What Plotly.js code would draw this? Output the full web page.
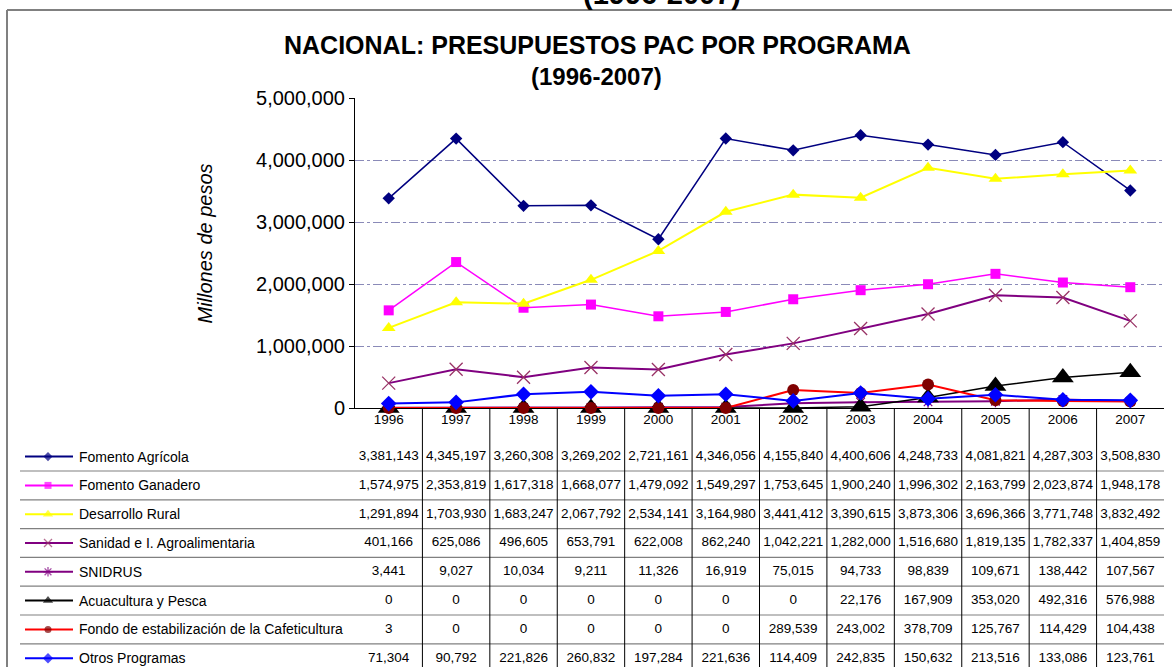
<!DOCTYPE html>
<html>
<head>
<meta charset="utf-8">
<script src="https://cdn.plot.ly/plotly-3.0.1.min.js"></script>
<style>
  html, body { margin: 0; padding: 0; background: #ffffff; }
  #chart { width: 1172px; height: 667px; }
</style>
</head>
<body>
<div id="chart"></div>
<script>
// ---------------- DATA ----------------
const years = [1996, 1997, 1998, 1999, 2000, 2001, 2002, 2003, 2004, 2005, 2006, 2007];

const seriesNames = [
  "Fomento Agrícola",
  "Fomento Ganadero",
  "Desarrollo Rural",
  "Sanidad e I. Agroalimentaria",
  "SNIDRUS",
  "Acuacultura y Pesca",
  "Fondo de estabilización de la Cafeticultura",
  "Otros Programas"
];

const fomentoAgricola = [3381143, 4345197, 3260308, 3269202, 2721161, 4346056, 4155840, 4400606, 4248733, 4081821, 4287303, 3508830];
const fomentoGanadero = [1574975, 2353819, 1617318, 1668077, 1479092, 1549297, 1753645, 1900240, 1996302, 2163799, 2023874, 1948178];
const desarrolloRural = [1291894, 1703930, 1683247, 2067792, 2534141, 3164980, 3441412, 3390615, 3873306, 3696366, 3771748, 3832492];
const sanidadAgro     = [401166, 625086, 496605, 653791, 622008, 862240, 1042221, 1282000, 1516680, 1819135, 1782337, 1404859];
const snidrus         = [3441, 9027, 10034, 9211, 11326, 16919, 75015, 94733, 98839, 109671, 138442, 107567];
const acuacultura     = [0, 0, 0, 0, 0, 0, 0, 22176, 167909, 353020, 492316, 576988];
const fondoCafe       = [3, 0, 0, 0, 0, 0, 289539, 243002, 378709, 125767, 114429, 104438];
const otrosProgramas  = [71304, 90792, 221826, 260832, 197284, 221636, 114409, 242835, 150632, 213516, 133086, 123761];

const yTicks = [0, 1000000, 2000000, 3000000, 4000000, 5000000];

const seriesValues = [fomentoAgricola, fomentoGanadero, desarrolloRural, sanidadAgro, snidrus, acuacultura, fondoCafe, otrosProgramas];

// ---------------- STYLES ----------------
const styles = [
  {line: "#000080", lw: 1.5, mc: "#000080", sym: "diamond",        size: 9.5,  lsize: 7,  mlw: 0},
  {line: "#FF00FF", lw: 1.5, mc: "#FF00FF", sym: "square",         size: 10,   lsize: 7,  mlw: 0},
  {line: "#FFFF00", lw: 2,   mc: "#FFFF00", sym: "triangle-up",    size: 12,   lsize: 9,  mlw: 0},
  {line: "#800080", lw: 2,   mc: "#993366", sym: "x-thin-open",    size: 13,   lsize: 8,  mlw: 1.3},
  {line: "#800080", lw: 2,   mc: "#800080", sym: "asterisk-open",  size: 10,   lsize: 8,  mlw: 1.3},
  {line: "#000000", lw: 1.5, mc: "#000000", sym: "triangle-up",    size: 19,   lsize: 9,  mlw: 0},
  {line: "#FF0000", lw: 2,   mc: "#800000", sym: "circle",         size: 12,   lsize: 7,  mlw: 0},
  {line: "#0000FF", lw: 2,   mc: "#0000FF", sym: "diamond",        size: 12,   lsize: 8,  mlw: 0}
];

// ---------------- GEOMETRY (pixels) ----------------
const W = 1172, H = 667;
const plotLeft = 355, plotRight = 1164, plotTop = 98, axisY = 408;
const tableLeft = 20;
const pxPerYear = (plotRight - plotLeft) / 12;
const x2Start = 2007.5 - (plotRight - tableLeft) / pxPerYear;
const px2x = p => x2Start + (p - tableLeft) / pxPerYear;
const row0 = 456.6, rowPitch = 28.8;
const py2r = p => (p - row0) / rowPitch;

const FONT = "Liberation Sans, Arial, sans-serif";
const fmt = v => v.toLocaleString("en-US");

const traces = [];

// chart lines
seriesValues.forEach((vals, i) => {
  const s = styles[i];
  traces.push({
    type: "scatter", mode: "lines+markers",
    x: years, y: vals, xaxis: "x", yaxis: "y",
    name: seriesNames[i], showlegend: false, cliponaxis: false,
    line: {color: s.line, width: s.lw},
    marker: {color: s.mc, symbol: s.sym, size: s.size, line: {color: s.mc, width: s.mlw}},
    hoverinfo: "skip"
  });
});

// table: year header
traces.push({
  type: "scatter", mode: "text",
  x: years, y: years.map(() => py2r(421)),
  text: years.map(String), xaxis: "x2", yaxis: "y2",
  textposition: "middle center",
  textfont: {family: FONT, size: 13.5, color: "#000000"},
  showlegend: false, hoverinfo: "skip", cliponaxis: false
});

// table: value rows and legend samples
seriesValues.forEach((vals, i) => {
  const s = styles[i];
  traces.push({
    type: "scatter", mode: "text",
    x: years, y: years.map(() => i),
    text: vals.map(fmt), xaxis: "x2", yaxis: "y2",
    textposition: "middle center",
    textfont: {family: FONT, size: 13.5, color: "#000000"},
    showlegend: false, hoverinfo: "skip", cliponaxis: false
  });
  traces.push({
    type: "scatter", mode: "lines+markers",
    x: [px2x(25), px2x(48), px2x(73)], y: [i, i, i],
    xaxis: "x2", yaxis: "y2",
    line: {color: s.line, width: 2},
    marker: {color: s.mc, symbol: s.sym, size: [0, s.lsize, 0], line: {color: s.mc, width: s.mlw}},
    showlegend: false, hoverinfo: "skip", cliponaxis: false
  });
});

// shapes
const shapes = [];
// frame
shapes.push({type: "line", xref: "paper", yref: "paper", x0: 7 / W, x1: 1, y0: 1 - 10 / H, y1: 1 - 10 / H, line: {color: "#808080", width: 2}});
shapes.push({type: "line", xref: "paper", yref: "paper", x0: 7 / W, x1: 7 / W, y0: 0, y1: 1 - 10 / H, line: {color: "#808080", width: 2}});
// table horizontal lines
for (let k = 0; k < seriesNames.length - 1; k++) {
  shapes.push({type: "line", xref: "x2 domain", yref: "y2", x0: 0, x1: 1, y0: k + 0.5, y1: k + 0.5, line: {color: "#808080", width: 1.2}});
}
// table vertical lines
for (let k = 0; k < years.length - 1; k++) {
  shapes.push({type: "line", xref: "x2", yref: "y2 domain", x0: years[k] + 0.5, x1: years[k] + 0.5, y0: 0, y1: 1, line: {color: "#000000", width: 1}});
}

// annotations
const annotations = [];
annotations.push({text: "<b>(1996-2007)</b>", xref: "paper", yref: "paper", x: 661.5 / W, y: 1 + 6 / H, xanchor: "center", yanchor: "middle", showarrow: false, font: {family: FONT, size: 29, color: "#000000"}});
annotations.push({text: "<b>NACIONAL: PRESUPUESTOS PAC POR PROGRAMA</b>", xref: "paper", yref: "paper", x: 597 / W, y: 1 - 45 / H, xanchor: "center", yanchor: "middle", showarrow: false, font: {family: FONT, size: 25, color: "#000000"}});
annotations.push({text: "<b>(1996-2007)</b>", xref: "paper", yref: "paper", x: 596 / W, y: 1 - 77 / H, xanchor: "center", yanchor: "middle", showarrow: false, font: {family: FONT, size: 24, color: "#000000"}});
annotations.push({text: "<i>Millones de pesos</i>", xref: "paper", yref: "paper", x: 204 / W, y: 1 - 243.5 / H, xanchor: "center", yanchor: "middle", textangle: -90, showarrow: false, font: {family: FONT, size: 20, color: "#000000"}});
seriesNames.forEach((nm, i) => {
  annotations.push({text: nm, xref: "x2", yref: "y2", x: px2x(77), y: i, xanchor: "left", yanchor: "middle", showarrow: false, font: {family: FONT, size: 14, color: "#000000"}});
});

const layout = {
  width: W, height: H,
  margin: {l: 0, r: 0, t: 0, b: 0, pad: 0},
  paper_bgcolor: "#ffffff", plot_bgcolor: "rgba(0,0,0,0)",
  showlegend: false,
  xaxis: {
    domain: [plotLeft / W, plotRight / W], range: [1995.5, 2007.5],
    showgrid: false, zeroline: false, showticklabels: false, ticks: "",
    showline: true, linecolor: "#000000", linewidth: 1, layer: "below traces",
    anchor: "y", fixedrange: true
  },
  yaxis: {
    domain: [1 - axisY / H, 1 - plotTop / H], range: [0, 5000000],
    tickvals: yTicks, tickformat: ",d",
    ticks: "outside", ticklen: 5, tickcolor: "#000000", tickwidth: 1,
    tickfont: {family: FONT, size: 20, color: "#000000"},
    showgrid: true, gridcolor: "#8A8AB8", griddash: "dashdot", gridwidth: 1,
    zeroline: false, showline: true, linecolor: "#000000", linewidth: 1,
    layer: "below traces", anchor: "x", fixedrange: true
  },
  xaxis2: {
    domain: [tableLeft / W, plotRight / W], range: [x2Start, 2007.5],
    visible: false, anchor: "y2", fixedrange: true
  },
  yaxis2: {
    domain: [0, 1 - axisY / H], range: [py2r(H), py2r(axisY)],
    visible: false, anchor: "x2", fixedrange: true
  },
  shapes: shapes,
  annotations: annotations,
  font: {family: FONT, color: "#000000"},
  hovermode: false
};

Plotly.newPlot("chart", traces, layout, {displayModeBar: false, staticPlot: true});
</script>
</body>
</html>
